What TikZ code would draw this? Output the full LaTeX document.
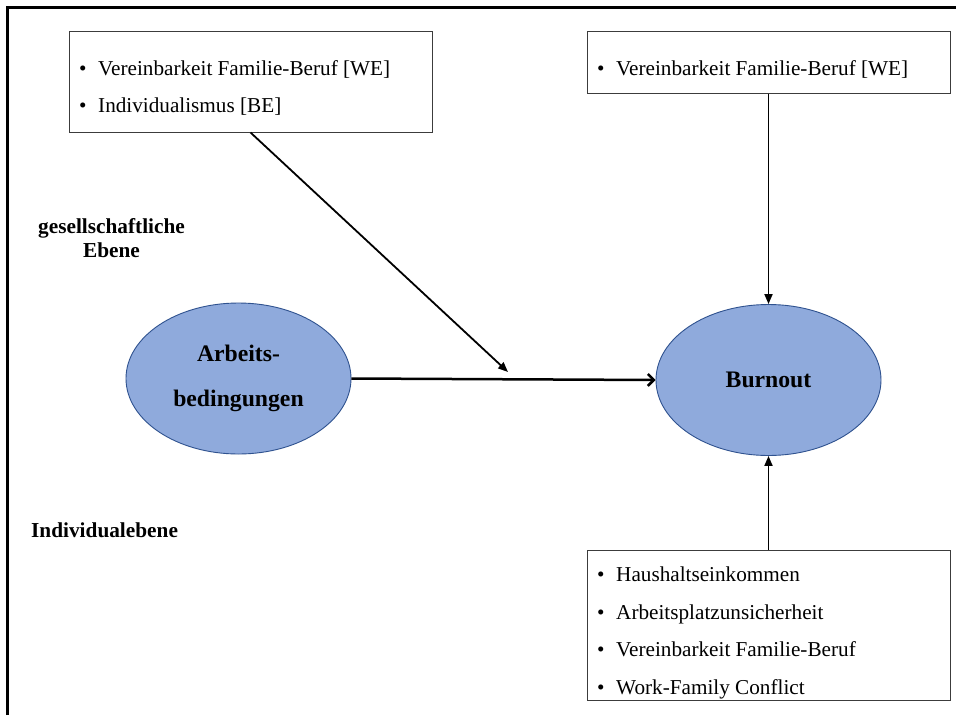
\documentclass[tikz,border=0pt]{standalone}
\usepackage{fontspec}
\setmainfont{Liberation Serif}
\usetikzlibrary{arrows.meta,shapes.geometric}
\definecolor{ellfill}{RGB}{143,170,220}
\definecolor{elldraw}{RGB}{47,82,143}
\definecolor{boxline}{RGB}{60,60,60}
\newcommand\listbullet{\makebox[19pt][l]{\textbullet}}
\tikzset{
  factor/.style={ellipse, draw=elldraw, line width=0.9pt, fill=ellfill,
    minimum width=225pt, minimum height=151pt, inner sep=0pt, align=center,
    font=\bfseries\fontsize{23.7}{45}\selectfont},
  listbox/.style={draw=boxline, line width=1pt, minimum width=363pt, inner sep=0pt},
  listitem/.style={anchor=base west, inner sep=0pt, font=\fontsize{21.2}{25}\selectfont},
  levellabel/.style={inner sep=0pt, align=center, font=\bfseries\fontsize{21.3}{24}\selectfont},
  link/.style={line width=1.8pt, -{Triangle[length=10pt,width=8pt]}},
  mainlink/.style={line width=2.5pt, -{Straight Barb[length=6pt,width=12pt]}},
}
\begin{document}
\begin{tikzpicture}[x=1pt,y=-1pt]
  \useasboundingbox (0,0) rectangle (956,715);
  \fill[white] (0,0) rectangle (956,715);

  % frame edges
  \draw[line width=2.5pt] (7.3,715) -- (7.3,7.3) -- (956,7.3);

  % boxes
  \node[listbox, minimum height=101pt] (b1) at (250.5,81.5) {};
  \node[listbox, minimum height=62pt]  (b2) at (768.5,62) {};
  \node[listbox, minimum height=150pt] (b3) at (768.5,625) {};

  \node[listitem] (b1i1) at (79,75.5)  {\listbullet Vereinbarkeit Familie-Beruf [WE]};
  \node[listitem] (b1i2) at (79,112.5) {\listbullet Individualismus [BE]};

  \node[listitem] (b2i1) at (597,75) {\listbullet Vereinbarkeit Familie-Beruf [WE]};

  \node[listitem] (b3i1) at (597,581) {\listbullet Haushaltseinkommen};
  \node[listitem] (b3i2) at (597,619) {\listbullet Arbeitsplatzunsicherheit};
  \node[listitem] (b3i3) at (597,656) {\listbullet Vereinbarkeit Familie-Beruf};
  \node[listitem] (b3i4) at (597,694) {\listbullet Work-Family Conflict};

  % level labels
  \node[levellabel] (ges) at (111.5,237.8) {gesellschaftliche\\Ebene};
  \node[levellabel, anchor=base west] (ind) at (31,537) {Individualebene};

  % factors
  \node[factor] (arb) at (238.5,378.5) {Arbeits-\\bedingungen};
  \node[factor] (burn) at (768.5,380) {Burnout};

  % connectors
  \coordinate (dtip) at (508,372);
  \draw[link] (b1.south) -- (dtip);
  \draw[mainlink] (arb.east) -- (burn.west);
  \draw[link] (b2.south) -- (burn.north);
  \draw[link] (b3.north) -- (burn.south);
\end{tikzpicture}
\end{document}
